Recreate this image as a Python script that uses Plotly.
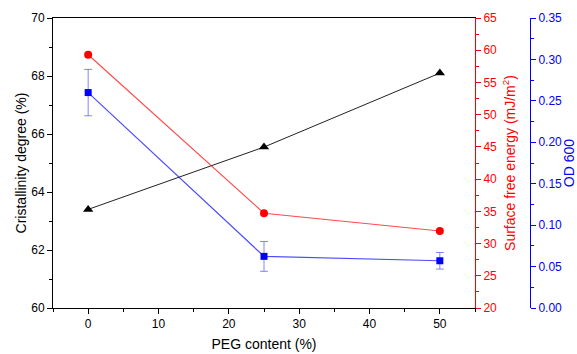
import plotly.graph_objects as go

peg = [0, 25, 50]
cryst = [63.4, 65.55, 68.1]
sfe = [59.3, 34.7, 31.95]
od = [0.260, 0.0623, 0.057]
od_err = [0.028, 0.018, 0.010]

FONT = "Liberation Sans, Arial, sans-serif"
RED = "#ff0000"
BLUE = "#0000ff"

fig = go.Figure()
fig.add_trace(go.Scatter(x=peg, y=cryst, mode="lines+markers",
                         line=dict(color="#222222", width=1),
                         marker=dict(symbol="triangle-up", size=9, color="black"),
                         xaxis="x", yaxis="y", showlegend=False))
fig.add_trace(go.Scatter(x=peg, y=sfe, mode="lines+markers",
                         line=dict(color="rgba(255,0,0,0.7)", width=1.2),
                         marker=dict(symbol="circle", size=8, color=RED),
                         xaxis="x", yaxis="y2", showlegend=False))
fig.add_trace(go.Scatter(x=peg, y=od, mode="lines+markers",
                         line=dict(color="rgba(0,0,255,0.7)", width=1.2),
                         marker=dict(symbol="square", size=7, color=BLUE),
                         error_y=dict(type="data", array=od_err, visible=True,
                                      color="rgba(80,80,255,0.7)", thickness=1, width=4),
                         xaxis="x", yaxis="y3", showlegend=False))

tickfont = dict(family=FONT, size=12)
fig.update_layout(
    width=577, height=354,
    margin=dict(l=53, r=47, t=17.5, b=46),
    paper_bgcolor="white", plot_bgcolor="white",
    font=dict(family=FONT, size=12, color="black"),
    xaxis=dict(domain=[0, 0.8847], range=[-5, 55], tickvals=[0, 10, 20, 30, 40, 50],
               showline=True, linecolor="black", linewidth=1, mirror=True,
               ticks="outside", ticklen=5, tickcolor="black",
               minor=dict(ticks="outside", ticklen=3, dtick=5, tick0=0, tickcolor="black"),
               showgrid=False, zeroline=False, automargin=False,
               tickfont=tickfont,
               title=dict(text="PEG content (%)", font=dict(family=FONT, size=14), standoff=8)),
    yaxis=dict(range=[60, 70], dtick=2, tick0=60,
               showline=True, linecolor="black", linewidth=1,
               ticks="outside", ticklen=5, tickcolor="black",
               minor=dict(ticks="outside", ticklen=3, dtick=1, tick0=60, tickcolor="black"),
               showgrid=False, zeroline=False, automargin=False,
               tickfont=tickfont,
               title=dict(text="Cristallinity degree (%)", font=dict(family=FONT, size=14), standoff=1)),
    yaxis2=dict(range=[20, 65], dtick=5, tick0=20, overlaying="y", side="right", anchor="x",
                showline=True, linecolor=RED, linewidth=1,
                ticks="outside", ticklen=5, tickcolor=RED,
                minor=dict(ticks="outside", ticklen=3, dtick=2.5, tick0=20, tickcolor=RED),
                showgrid=False, zeroline=False, automargin=False,
                tickfont=dict(family=FONT, size=12, color=RED),
                title=dict(text="Surface free energy (mJ/m<sup>2</sup>)",
                           font=dict(family=FONT, size=14, color=RED), standoff=9)),
    yaxis3=dict(range=[0, 0.35], dtick=0.05, tick0=0, overlaying="y", side="right",
                anchor="free", position=1.0, tickformat=".2f",
                showline=True, linecolor=BLUE, linewidth=1,
                ticks="outside", ticklen=5, tickcolor=BLUE,
                minor=dict(ticks="outside", ticklen=3, dtick=0.025, tick0=0, tickcolor=BLUE),
                showgrid=False, zeroline=False, automargin=False,
                tickfont=dict(family=FONT, size=12, color=BLUE),
                title=dict(text="OD 600", font=dict(family=FONT, size=14, color=BLUE), standoff=6)),
)

fig.write_html("out.html")
